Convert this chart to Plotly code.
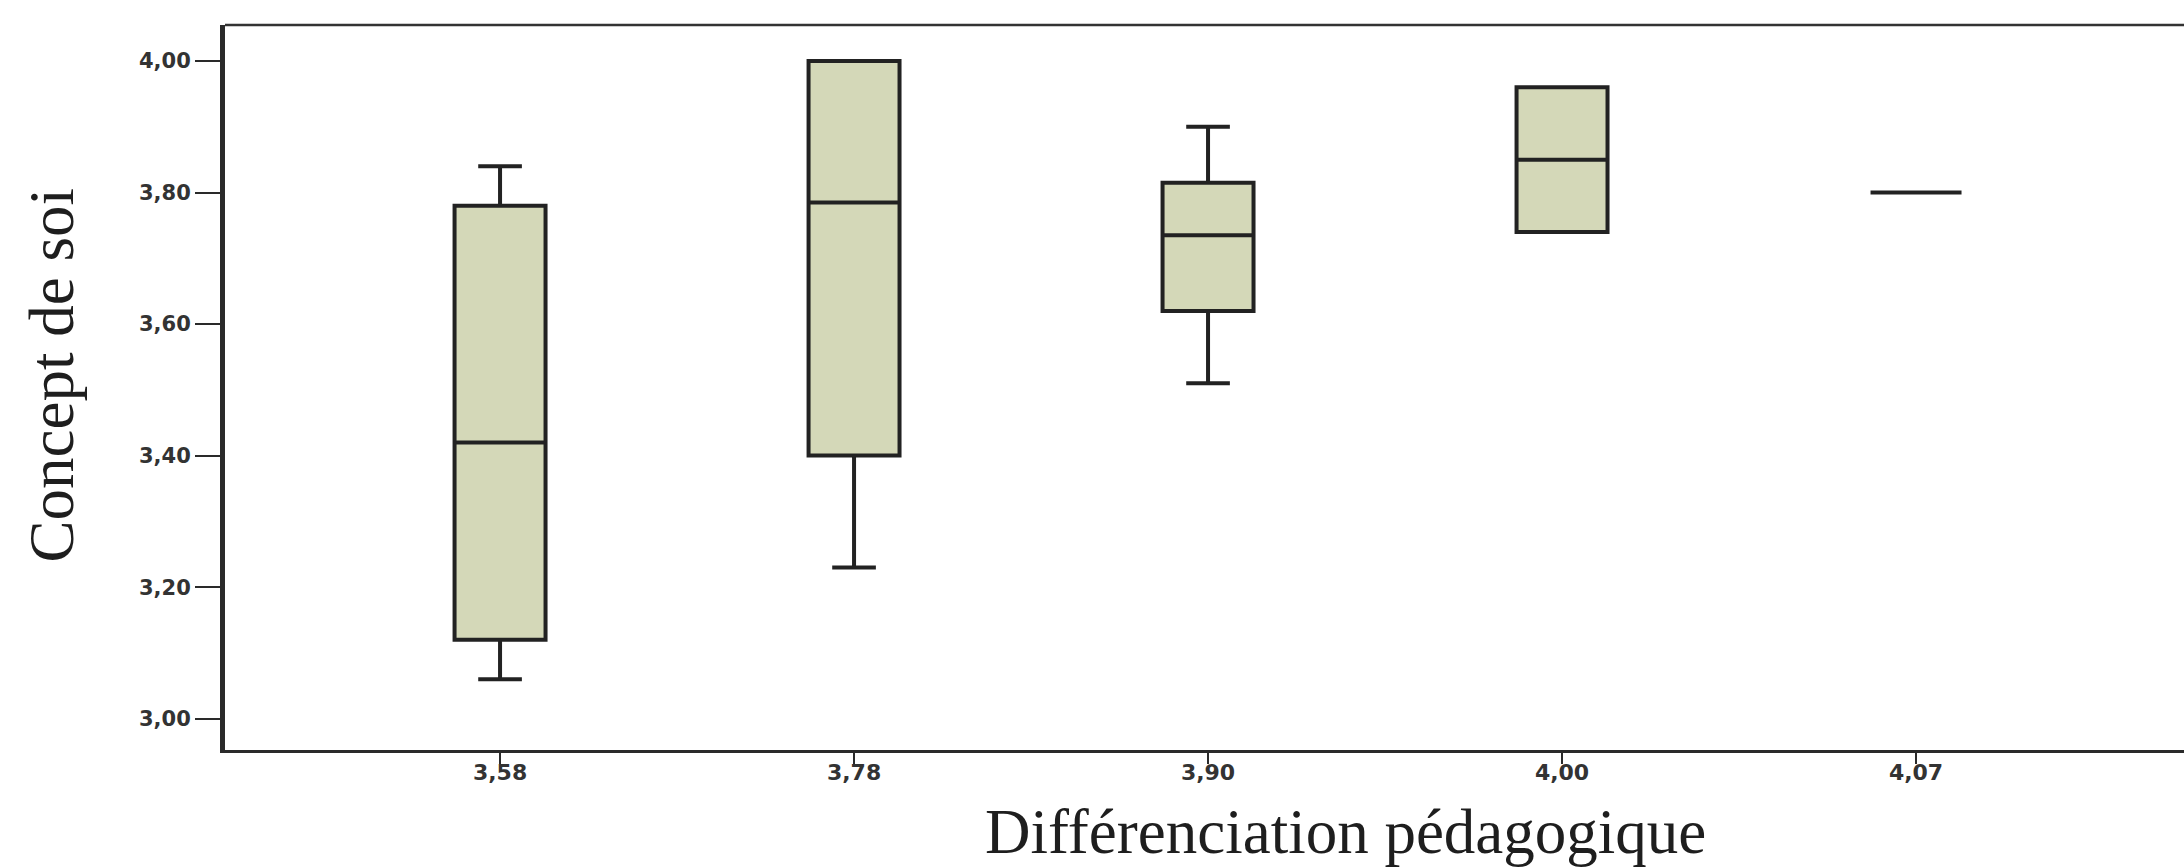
import plotly.graph_objects as go

# ---- data ----
categories = ["3,58", "3,78", "3,90", "4,00", "4,07"]
lower_whisker = [3.06, 3.23, 3.51, 3.74, 3.80]
q1_values = [3.12, 3.40, 3.62, 3.74, 3.80]
median_values = [3.42, 3.785, 3.735, 3.85, 3.80]
q3_values = [3.78, 4.00, 3.815, 3.96, 3.80]
upper_whisker = [3.84, 4.00, 3.90, 3.96, 3.80]

y_tick_values = [3.0, 3.2, 3.4, 3.6, 3.8, 4.0]
y_tick_labels = ["3,00", "3,20", "3,40", "3,60", "3,80", "4,00"]

x_title = "Différenciation pédagogique"
y_title = "Concept de soi"

fig = go.Figure()
fig.add_trace(go.Box(
    x=categories,
    q1=q1_values,
    median=median_values,
    q3=q3_values,
    lowerfence=lower_whisker,
    upperfence=upper_whisker,
    boxpoints=False,
    fillcolor="#d4d8b8",
    line=dict(color="#222222", width=4),
    width=0.257,
    whiskerwidth=0.48,
    showlegend=False,
    hoverinfo="skip",
))

fig.update_layout(
    width=2184,
    height=868,
    margin=dict(l=225, r=0, t=25, b=118),
    paper_bgcolor="white",
    plot_bgcolor="white",
    xaxis=dict(
        type="category",
        categoryorder="array",
        categoryarray=categories,
        range=[-0.777, 4.757],
        showgrid=False,
        zeroline=False,
        showline=True,
        linecolor="#2a2a2a",
        linewidth=3,
        ticks="outside",
        ticklen=11,
        tickwidth=2,
        tickcolor="#2a2a2a",
        ticklabelstandoff=-10,
        tickfont=dict(family="DejaVu Sans", size=22, color="#333333", weight="bold"),
    ),
    yaxis=dict(
        range=[2.9524, 4.0547],
        tickmode="array",
        tickvals=y_tick_values,
        ticktext=y_tick_labels,
        showgrid=False,
        zeroline=False,
        showline=True,
        linecolor="#2a2a2a",
        linewidth=5,
        ticks="outside",
        ticklen=25,
        tickwidth=2,
        tickcolor="#2a2a2a",
        tickfont=dict(family="DejaVu Sans", size=21, color="#333333", weight="bold"),
    ),
    shapes=[dict(type="line", xref="paper", yref="paper", x0=0, x1=1, y0=1, y1=1,
                 line=dict(color="#333333", width=2.5))],
    annotations=[
        dict(text=x_title, xref="paper", yref="paper", x=0.572, y=-0.062,
             xanchor="center", yanchor="top", showarrow=False,
             font=dict(family="Liberation Serif", size=63, color="#1e1e1e")),
        dict(text=y_title, xref="paper", yref="paper", x=-0.0885, y=0.516,
             xanchor="center", yanchor="middle", textangle=-90, showarrow=False,
             font=dict(family="Liberation Serif", size=63, color="#1e1e1e")),
    ],
)

fig.write_html("out.html")
